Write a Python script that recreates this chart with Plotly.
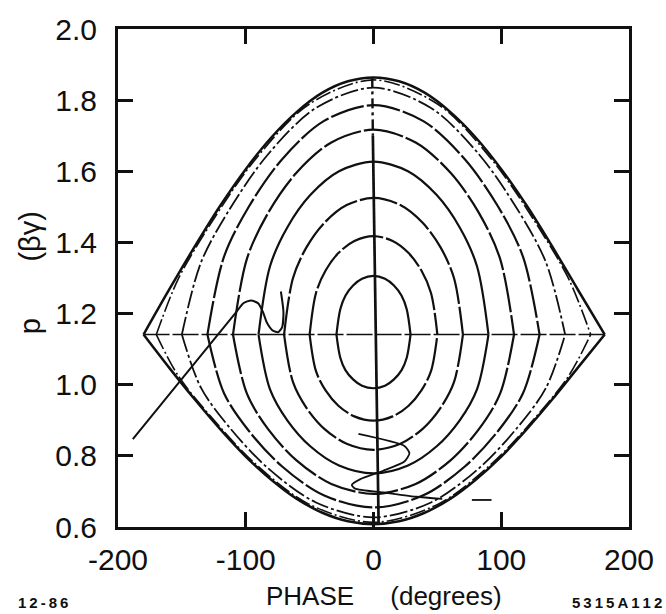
import plotly.graph_objects as go

# ---- closed phase-space orbits (phase in degrees, momentum p in units of beta*gamma)
# separatrix
sep_phase = [-180, -160, -140, -120, -100, -80, -60, -40, -20, 0, 20, 40, 60, 80, 100, 120, 140, 160, 181]
sep_p_upper = [1.141, 1.267, 1.388, 1.503, 1.606, 1.695, 1.767, 1.821, 1.853, 1.864,
               1.853, 1.821, 1.767, 1.695, 1.606, 1.503, 1.388, 1.267, 1.141]
sep_p_lower = [1.141, 1.048, 0.959, 0.875, 0.798, 0.733, 0.679, 0.640, 0.616, 0.608,
               0.616, 0.640, 0.679, 0.733, 0.798, 0.875, 0.959, 1.048, 1.141]

orbit170_phase = [-170, -153, -127.5, -93.5, -51, 0, 51, 93.5, 127.5, 153, 170]
orbit170_p_upper = [1.141, 1.296, 1.452, 1.629, 1.787, 1.857, 1.787, 1.629, 1.452, 1.296, 1.141]
orbit170_p_lower = [1.141, 1.026, 0.911, 0.781, 0.665, 0.613, 0.665, 0.781, 0.911, 1.026, 1.141]

orbit150_phase = [-150, -135, -112.5, -82.5, -45, 0, 45, 82.5, 112.5, 135, 150]
orbit150_p_upper = [1.141, 1.344, 1.494, 1.648, 1.778, 1.835, 1.778, 1.648, 1.494, 1.344, 1.141]
orbit150_p_lower = [1.141, 0.991, 0.879, 0.765, 0.669, 0.627, 0.669, 0.765, 0.879, 0.991, 1.141]

orbit130_phase = [-130, -117, -97.5, -71.5, -39, 0, 39, 71.5, 97.5, 117, 130]
orbit130_p_upper = [1.141, 1.360, 1.501, 1.634, 1.741, 1.786, 1.741, 1.634, 1.501, 1.360, 1.141]
orbit130_p_lower = [1.141, 0.976, 0.870, 0.770, 0.689, 0.655, 0.689, 0.770, 0.870, 0.976, 1.141]

orbit110_phase = [-110, -99, -82.5, -60.5, -33, 0, 33, 60.5, 82.5, 99, 110]
orbit110_p_upper = [1.141, 1.355, 1.483, 1.595, 1.681, 1.717, 1.681, 1.595, 1.483, 1.355, 1.141]
orbit110_p_lower = [1.141, 0.974, 0.875, 0.788, 0.721, 0.693, 0.721, 0.788, 0.875, 0.974, 1.141]

orbit90_phase = [-90, -81, -67.5, -49.5, -27, 0, 27, 49.5, 67.5, 81, 90]
orbit90_p_upper = [1.141, 1.333, 1.442, 1.533, 1.600, 1.627, 1.600, 1.533, 1.442, 1.333, 1.141]
orbit90_p_lower = [1.141, 0.987, 0.900, 0.827, 0.773, 0.751, 0.773, 0.827, 0.900, 0.987, 1.141]

orbit70_phase = [-70, -63, -52.5, -38.5, -21, 0, 21, 38.5, 52.5, 63, 70]
orbit70_p_upper = [1.141, 1.300, 1.386, 1.455, 1.505, 1.525, 1.505, 1.455, 1.386, 1.300, 1.141]
orbit70_p_lower = [1.141, 1.007, 0.935, 0.876, 0.834, 0.817, 0.834, 0.876, 0.935, 1.007, 1.141]

orbit50_phase = [-50, -45, -37.5, -27.5, -15, 0, 15, 27.5, 37.5, 45, 50]
orbit50_p_upper = [1.141, 1.258, 1.321, 1.370, 1.404, 1.418, 1.404, 1.370, 1.321, 1.258, 1.141]
orbit50_p_lower = [1.141, 1.038, 0.984, 0.941, 0.911, 0.899, 0.911, 0.941, 0.984, 1.038, 1.141]

orbit30_phase = [-29, -26, -22, -16, -9, 0, 9, 16, 22, 26, 29]
orbit30_p_upper = [1.141, 1.212, 1.250, 1.279, 1.298, 1.306, 1.298, 1.279, 1.250, 1.212, 1.141]
orbit30_p_lower = [1.141, 1.076, 1.041, 1.015, 0.997, 0.990, 0.997, 1.015, 1.041, 1.076, 1.141]

# ---- reference lines through the bucket centre
centre_phase = [-180, 181]
centre_p = [1.141, 1.141]
sync_phase_top = [-1, -0.5]
sync_p_top = [1.864, 1.70]
sync_phase = [-0.5, 4]
sync_p = [1.70, 0.607]

# ---- tracked particle trajectories
track_a_phase = [-188.4, -108.1, -101.9, -95.8, -90.3, -86.5, -83.4, -78.8, -74.5, -71.5, -70.5, -72.5]
track_a_p = [0.847, 1.201, 1.229, 1.237, 1.229, 1.204, 1.174, 1.152, 1.148, 1.162, 1.205, 1.262]
track_b_phase = [-11.8, 24.2, 28.1, 24.2, 7.5, -10.6, -17.0, -14.4, 7.5, 33.2, 53.8, None, 77, 92.4]
track_b_p = [0.862, 0.828, 0.807, 0.784, 0.758, 0.734, 0.718, 0.708, 0.697, 0.685, 0.679, None, 0.676, 0.676]

# ---- axis ticks
x_ticks = [-200, -100, 0, 100, 200]
x_tick_text = ["-200", "-100", "0", "100", "200"]
y_ticks = [0.6, 0.8, 1.0, 1.2, 1.4, 1.6, 1.8, 2.0]
y_tick_text = ["0.6", "0.8", "1.0", "1.2", "1.4", "1.6", "1.8", "2.0"]

INK = "#101010"
fig = go.Figure()


def half(phase, p, dash, width):
    fig.add_trace(go.Scatter(x=phase, y=p, mode="lines",
                             line=dict(color=INK, width=width, dash=dash,
                                       shape="spline", smoothing=0.9),
                             hoverinfo="skip", showlegend=False))


def orbit(phase, upper, lower, dash, width=2.2):
    # upper and lower branches meet with a corner on the centre line
    half(phase, upper, dash, width)
    half(phase, lower, dash, width)


orbit(sep_phase, sep_p_upper, sep_p_lower, "solid", 2.5)
orbit(orbit170_phase, orbit170_p_upper, orbit170_p_lower, "16px,3px,2px,3px", 1.6)
orbit(orbit150_phase, orbit150_p_upper, orbit150_p_lower, "18px,3px,3px,3px", 1.8)
orbit(orbit130_phase, orbit130_p_upper, orbit130_p_lower, "34px,3px")
orbit(orbit110_phase, orbit110_p_upper, orbit110_p_lower, "40px,3px")
orbit(orbit90_phase, orbit90_p_upper, orbit90_p_lower, "solid")
orbit(orbit70_phase, orbit70_p_upper, orbit70_p_lower, "38px,3px")
orbit(orbit50_phase, orbit50_p_upper, orbit50_p_lower, "44px,3px")
orbit(orbit30_phase, orbit30_p_upper, orbit30_p_lower, "solid")

fig.add_trace(go.Scatter(x=centre_phase, y=centre_p, mode="lines",
                         line=dict(color=INK, width=1.6, dash="26px,3px"),
                         hoverinfo="skip", showlegend=False))
fig.add_trace(go.Scatter(x=sync_phase_top, y=sync_p_top, mode="lines",
                         line=dict(color=INK, width=2.4, dash="10px,4px,3px,4px"),
                         hoverinfo="skip", showlegend=False))
fig.add_trace(go.Scatter(x=sync_phase, y=sync_p, mode="lines",
                         line=dict(color=INK, width=2.7),
                         hoverinfo="skip", showlegend=False))
fig.add_trace(go.Scatter(x=track_a_phase, y=track_a_p, mode="lines",
                         line=dict(color=INK, width=2.0, shape="spline", smoothing=0.6),
                         hoverinfo="skip", showlegend=False))
fig.add_trace(go.Scatter(x=track_b_phase, y=track_b_p, mode="lines",
                         line=dict(color=INK, width=1.8, shape="spline", smoothing=0.6),
                         connectgaps=False, hoverinfo="skip", showlegend=False))

axis_font = dict(family="Liberation Sans, Arial, sans-serif", size=30, color=INK)

fig.update_xaxes(range=[-200, 200], tickvals=x_ticks, ticktext=x_tick_text,
                 ticks="inside", ticklen=15, tickwidth=2.5, tickcolor=INK,
                 showline=True, linewidth=3, linecolor=INK, mirror="ticks",
                 showgrid=False, zeroline=False, tickfont=axis_font,
                 ticklabelstandoff=4)
fig.update_yaxes(range=[0.6, 2.0], tickvals=y_ticks, ticktext=y_tick_text,
                 ticks="inside", ticklen=15, tickwidth=2.5, tickcolor=INK,
                 showline=True, linewidth=3, linecolor=INK, mirror="ticks",
                 showgrid=False, zeroline=False, tickfont=axis_font,
                 ticklabelstandoff=12)

title_font = dict(family="Liberation Sans, Arial, sans-serif", size=26, color=INK)
nb = "\u00a0"
fig.add_annotation(text="PHASE" + nb * 5 + "(degrees)", xref="paper", yref="paper",
                   x=0.52, y=-0.139, xanchor="center", yanchor="middle",
                   showarrow=False, font=title_font)
fig.add_annotation(text="p" + nb * 7 + "(βγ)", xref="paper", yref="paper",
                   x=-0.172, y=0.51, xanchor="center", yanchor="middle",
                   textangle=-90, showarrow=False,
                   font=dict(family="Liberation Sans, Arial, sans-serif", size=29, color=INK))
fig.add_annotation(text="<b>1\u20092\u2009-\u20098\u20096</b>", xref="paper", yref="paper",
                   x=-0.199, y=-0.151, xanchor="left", yanchor="middle",
                   showarrow=False,
                   font=dict(family="Liberation Sans, Arial, sans-serif", size=15, color=INK))
fig.add_annotation(text="<b>5\u20093\u20091\u20095\u2009A\u20091\u20091\u20092</b>",
                   xref="paper", yref="paper",
                   x=1.068, y=-0.151, xanchor="right", yanchor="middle",
                   showarrow=False,
                   font=dict(family="Liberation Sans, Arial, sans-serif", size=15, color=INK))

fig.update_layout(width=666, height=614, margin=dict(l=118, r=30, t=17, b=87),
                  paper_bgcolor="white", plot_bgcolor="white", showlegend=False)

fig.write_html("out.html")
